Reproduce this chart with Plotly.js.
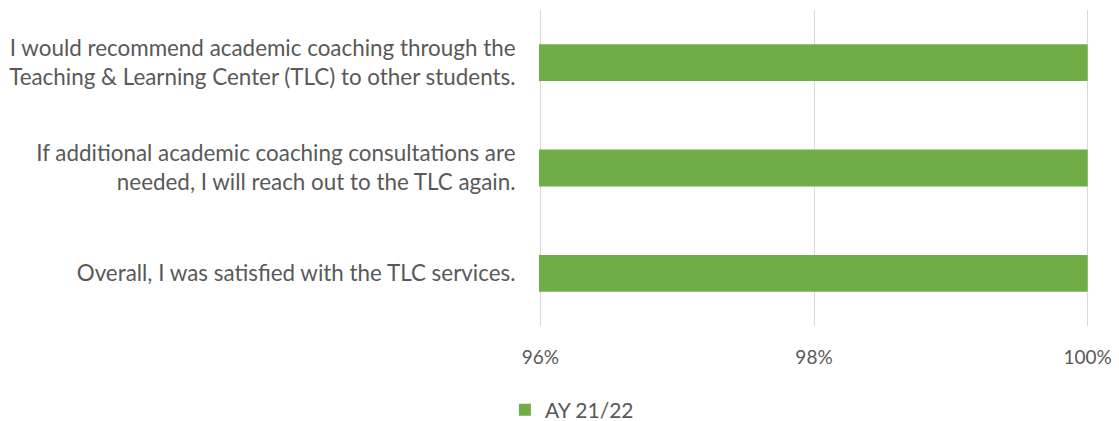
<!DOCTYPE html>
<html>
<head>
<meta charset="utf-8">
<script src="https://cdn.plot.ly/plotly-3.0.1.min.js"></script>
<style>html,body{margin:0;padding:0;background:#fff;}#chart{width:1119px;height:421px;}</style>
</head>
<body>
<div id="chart"></div>
<script>
const categories = [
  "I would recommend academic coaching through the<br>Teaching & Learning Center (TLC) to other students.",
  "If additional academic coaching consultations are<br>needed, I will reach out to the TLC again.",
  "Overall, I was satisfied with the TLC services."
];
const seriesName = "AY 21/22";
const values = [100, 100, 100];
const tickVals = [96, 98, 100];
const tickText = ["96%", "98%", "100%"];

const font = "Lato, 'Open Sans', sans-serif";
const trace = {
  type: 'bar',
  orientation: 'h',
  y: categories,
  x: values,
  name: seriesName,
  marker: {color: '#70AD47'},
  width: 0.35,
  showlegend: true,
  hoverinfo: 'x+y'
};
const layout = {
  width: 1119, height: 421,
  margin: {l: 539, r: 30, t: 10, b: 95, autoexpand: false},
  paper_bgcolor: '#fff', plot_bgcolor: '#fff',
  font: {family: font, color: '#595959', size: 22},
  showlegend: true,
  xaxis: {
    range: [95.99, 100.01],
    tickvals: tickVals, ticktext: tickText,
    showgrid: true, gridcolor: '#D9D9D9', gridwidth: 1,
    zeroline: false, showline: false,
    ticks: 'outside', ticklen: 14, tickcolor: 'rgba(0,0,0,0)',
    tickfont: {size: 19, family: font, color: '#595959'},
    fixedrange: true, automargin: false
  },
  yaxis: {
    type: 'category',
    categoryorder: 'array',
    categoryarray: categories.slice().reverse(),
    showgrid: false, zeroline: false, showline: false,
    ticks: 'outside', ticklen: 18, tickcolor: 'rgba(0,0,0,0)',
    tickfont: {size: 22.4, family: font, color: '#595959'},
    fixedrange: true, automargin: false
  },
  legend: {
    orientation: 'h',
    x: -0.062, xanchor: 'left',
    y: -0.266, yanchor: 'middle',
    font: {size: 21, family: font, color: '#595959'},
    itemwidth: 30
  }
};
Plotly.newPlot('chart', [trace], layout, {displayModeBar: false, staticPlot: true});
</script>
</body>
</html>
